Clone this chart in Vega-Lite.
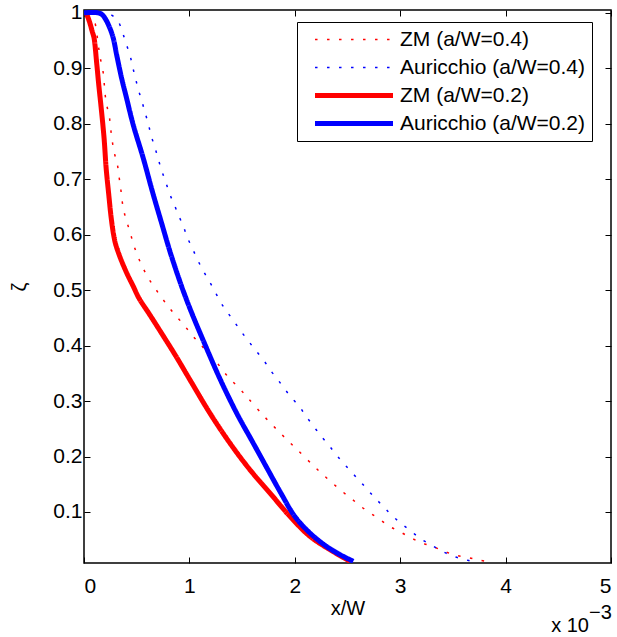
{
  "$schema": "https://vega.github.io/schema/vega-lite/v6.json",
  "width": 527,
  "height": 553,
  "autosize": {"type": "none"},
  "padding": {"left": 84, "top": 10, "right": 6, "bottom": 74},
  "background": "white",
  "config": {
    "view": {"stroke": "black", "strokeWidth": 1.5},
    "font": "Liberation Sans",
    "axis": {
      "domain": false, "grid": false,
      "tickColor": "black", "tickSize": -6, "tickWidth": 1,
      "labelFontSize": 21, "labelColor": "black", "labelFont": "Liberation Sans",
      "titleFontSize": 20, "titleFontWeight": "normal", "titleColor": "black", "titleFont": "Liberation Sans"
    },
    "legend": {
      "labelFontSize": 21, "labelFont": "Liberation Sans", "labelColor": "black", "labelLimit": 400,
      "strokeColor": "black", "fillColor": "white"
    }
  },
  "datasets": {
    "curves": [
      {"s": "ZM (a/W=0.4)", "x": 0.06, "z": 1.0},
      {"s": "ZM (a/W=0.4)", "x": 0.1, "z": 0.985},
      {"s": "ZM (a/W=0.4)", "x": 0.136, "z": 0.941},
      {"s": "ZM (a/W=0.4)", "x": 0.152, "z": 0.92},
      {"s": "ZM (a/W=0.4)", "x": 0.177, "z": 0.899},
      {"s": "ZM (a/W=0.4)", "x": 0.19, "z": 0.877},
      {"s": "ZM (a/W=0.4)", "x": 0.199, "z": 0.855},
      {"s": "ZM (a/W=0.4)", "x": 0.215, "z": 0.834},
      {"s": "ZM (a/W=0.4)", "x": 0.24, "z": 0.813},
      {"s": "ZM (a/W=0.4)", "x": 0.253, "z": 0.791},
      {"s": "ZM (a/W=0.4)", "x": 0.268, "z": 0.769},
      {"s": "ZM (a/W=0.4)", "x": 0.287, "z": 0.748},
      {"s": "ZM (a/W=0.4)", "x": 0.316, "z": 0.727},
      {"s": "ZM (a/W=0.4)", "x": 0.332, "z": 0.705},
      {"s": "ZM (a/W=0.4)", "x": 0.348, "z": 0.684},
      {"s": "ZM (a/W=0.4)", "x": 0.36, "z": 0.663},
      {"s": "ZM (a/W=0.4)", "x": 0.379, "z": 0.642},
      {"s": "ZM (a/W=0.4)", "x": 0.41, "z": 0.621},
      {"s": "ZM (a/W=0.4)", "x": 0.442, "z": 0.601},
      {"s": "ZM (a/W=0.4)", "x": 0.474, "z": 0.58},
      {"s": "ZM (a/W=0.4)", "x": 0.515, "z": 0.559},
      {"s": "ZM (a/W=0.4)", "x": 0.562, "z": 0.539},
      {"s": "ZM (a/W=0.4)", "x": 0.616, "z": 0.52},
      {"s": "ZM (a/W=0.4)", "x": 0.679, "z": 0.502},
      {"s": "ZM (a/W=0.4)", "x": 0.742, "z": 0.485},
      {"s": "ZM (a/W=0.4)", "x": 0.809, "z": 0.468},
      {"s": "ZM (a/W=0.4)", "x": 0.885, "z": 0.451},
      {"s": "ZM (a/W=0.4)", "x": 0.957, "z": 0.435},
      {"s": "ZM (a/W=0.4)", "x": 1.03, "z": 0.418},
      {"s": "ZM (a/W=0.4)", "x": 1.106, "z": 0.402},
      {"s": "ZM (a/W=0.4)", "x": 1.18, "z": 0.386},
      {"s": "ZM (a/W=0.4)", "x": 1.258, "z": 0.37},
      {"s": "ZM (a/W=0.4)", "x": 1.33, "z": 0.352},
      {"s": "ZM (a/W=0.4)", "x": 1.40, "z": 0.337},
      {"s": "ZM (a/W=0.4)", "x": 1.479, "z": 0.322},
      {"s": "ZM (a/W=0.4)", "x": 1.557, "z": 0.305},
      {"s": "ZM (a/W=0.4)", "x": 1.716, "z": 0.271},
      {"s": "ZM (a/W=0.4)", "x": 1.874, "z": 0.24},
      {"s": "ZM (a/W=0.4)", "x": 2.03, "z": 0.211},
      {"s": "ZM (a/W=0.4)", "x": 2.19, "z": 0.181},
      {"s": "ZM (a/W=0.4)", "x": 2.275, "z": 0.166},
      {"s": "ZM (a/W=0.4)", "x": 2.363, "z": 0.151},
      {"s": "ZM (a/W=0.4)", "x": 2.45, "z": 0.137},
      {"s": "ZM (a/W=0.4)", "x": 2.537, "z": 0.124},
      {"s": "ZM (a/W=0.4)", "x": 2.626, "z": 0.11},
      {"s": "ZM (a/W=0.4)", "x": 2.717, "z": 0.098},
      {"s": "ZM (a/W=0.4)", "x": 2.81, "z": 0.086},
      {"s": "ZM (a/W=0.4)", "x": 2.90, "z": 0.074},
      {"s": "ZM (a/W=0.4)", "x": 3.00, "z": 0.064},
      {"s": "ZM (a/W=0.4)", "x": 3.106, "z": 0.053},
      {"s": "ZM (a/W=0.4)", "x": 3.21, "z": 0.044},
      {"s": "ZM (a/W=0.4)", "x": 3.318, "z": 0.037},
      {"s": "ZM (a/W=0.4)", "x": 3.42, "z": 0.029},
      {"s": "ZM (a/W=0.4)", "x": 3.526, "z": 0.022},
      {"s": "ZM (a/W=0.4)", "x": 3.643, "z": 0.018},
      {"s": "ZM (a/W=0.4)", "x": 3.754, "z": 0.013},
      {"s": "ZM (a/W=0.4)", "x": 3.87, "z": 0.01},

      {"s": "Auricchio (a/W=0.4)", "x": 0.15, "z": 1.0},
      {"s": "Auricchio (a/W=0.4)", "x": 0.23, "z": 0.999},
      {"s": "Auricchio (a/W=0.4)", "x": 0.316, "z": 0.987},
      {"s": "Auricchio (a/W=0.4)", "x": 0.363, "z": 0.966},
      {"s": "Auricchio (a/W=0.4)", "x": 0.398, "z": 0.945},
      {"s": "Auricchio (a/W=0.4)", "x": 0.436, "z": 0.924},
      {"s": "Auricchio (a/W=0.4)", "x": 0.461, "z": 0.903},
      {"s": "Auricchio (a/W=0.4)", "x": 0.487, "z": 0.883},
      {"s": "Auricchio (a/W=0.4)", "x": 0.515, "z": 0.862},
      {"s": "Auricchio (a/W=0.4)", "x": 0.55, "z": 0.84},
      {"s": "Auricchio (a/W=0.4)", "x": 0.581, "z": 0.819},
      {"s": "Auricchio (a/W=0.4)", "x": 0.61, "z": 0.8},
      {"s": "Auricchio (a/W=0.4)", "x": 0.638, "z": 0.778},
      {"s": "Auricchio (a/W=0.4)", "x": 0.673, "z": 0.757},
      {"s": "Auricchio (a/W=0.4)", "x": 0.705, "z": 0.736},
      {"s": "Auricchio (a/W=0.4)", "x": 0.736, "z": 0.716},
      {"s": "Auricchio (a/W=0.4)", "x": 0.774, "z": 0.696},
      {"s": "Auricchio (a/W=0.4)", "x": 0.809, "z": 0.675},
      {"s": "Auricchio (a/W=0.4)", "x": 0.853, "z": 0.656},
      {"s": "Auricchio (a/W=0.4)", "x": 0.894, "z": 0.636},
      {"s": "Auricchio (a/W=0.4)", "x": 0.941, "z": 0.616},
      {"s": "Auricchio (a/W=0.4)", "x": 0.98, "z": 0.595},
      {"s": "Auricchio (a/W=0.4)", "x": 1.027, "z": 0.576},
      {"s": "Auricchio (a/W=0.4)", "x": 1.074, "z": 0.556},
      {"s": "Auricchio (a/W=0.4)", "x": 1.125, "z": 0.537},
      {"s": "Auricchio (a/W=0.4)", "x": 1.179, "z": 0.519},
      {"s": "Auricchio (a/W=0.4)", "x": 1.236, "z": 0.5},
      {"s": "Auricchio (a/W=0.4)", "x": 1.29, "z": 0.48},
      {"s": "Auricchio (a/W=0.4)", "x": 1.353, "z": 0.462},
      {"s": "Auricchio (a/W=0.4)", "x": 1.422, "z": 0.444},
      {"s": "Auricchio (a/W=0.4)", "x": 1.488, "z": 0.426},
      {"s": "Auricchio (a/W=0.4)", "x": 1.557, "z": 0.409},
      {"s": "Auricchio (a/W=0.4)", "x": 1.625, "z": 0.392},
      {"s": "Auricchio (a/W=0.4)", "x": 1.70, "z": 0.375},
      {"s": "Auricchio (a/W=0.4)", "x": 1.763, "z": 0.357},
      {"s": "Auricchio (a/W=0.4)", "x": 1.833, "z": 0.34},
      {"s": "Auricchio (a/W=0.4)", "x": 1.90, "z": 0.323},
      {"s": "Auricchio (a/W=0.4)", "x": 1.968, "z": 0.306},
      {"s": "Auricchio (a/W=0.4)", "x": 2.045, "z": 0.29},
      {"s": "Auricchio (a/W=0.4)", "x": 2.104, "z": 0.273},
      {"s": "Auricchio (a/W=0.4)", "x": 2.174, "z": 0.256},
      {"s": "Auricchio (a/W=0.4)", "x": 2.243, "z": 0.238},
      {"s": "Auricchio (a/W=0.4)", "x": 2.316, "z": 0.222},
      {"s": "Auricchio (a/W=0.4)", "x": 2.389, "z": 0.204},
      {"s": "Auricchio (a/W=0.4)", "x": 2.458, "z": 0.189},
      {"s": "Auricchio (a/W=0.4)", "x": 2.537, "z": 0.172},
      {"s": "Auricchio (a/W=0.4)", "x": 2.616, "z": 0.156},
      {"s": "Auricchio (a/W=0.4)", "x": 2.695, "z": 0.139},
      {"s": "Auricchio (a/W=0.4)", "x": 2.768, "z": 0.124},
      {"s": "Auricchio (a/W=0.4)", "x": 2.844, "z": 0.109},
      {"s": "Auricchio (a/W=0.4)", "x": 2.926, "z": 0.093},
      {"s": "Auricchio (a/W=0.4)", "x": 3.011, "z": 0.079},
      {"s": "Auricchio (a/W=0.4)", "x": 3.10, "z": 0.066},
      {"s": "Auricchio (a/W=0.4)", "x": 3.19, "z": 0.052},
      {"s": "Auricchio (a/W=0.4)", "x": 3.289, "z": 0.041},
      {"s": "Auricchio (a/W=0.4)", "x": 3.39, "z": 0.03},
      {"s": "Auricchio (a/W=0.4)", "x": 3.49, "z": 0.021},
      {"s": "Auricchio (a/W=0.4)", "x": 3.595, "z": 0.015},
      {"s": "Auricchio (a/W=0.4)", "x": 3.706, "z": 0.01},

      {"s": "ZM (a/W=0.2)", "x": 0.02, "z": 1.0},
      {"s": "ZM (a/W=0.2)", "x": 0.05, "z": 0.985},
      {"s": "ZM (a/W=0.2)", "x": 0.08, "z": 0.965},
      {"s": "ZM (a/W=0.2)", "x": 0.095, "z": 0.955},
      {"s": "ZM (a/W=0.2)", "x": 0.12, "z": 0.91},
      {"s": "ZM (a/W=0.2)", "x": 0.14, "z": 0.87},
      {"s": "ZM (a/W=0.2)", "x": 0.16, "z": 0.834},
      {"s": "ZM (a/W=0.2)", "x": 0.19, "z": 0.775},
      {"s": "ZM (a/W=0.2)", "x": 0.21, "z": 0.72},
      {"s": "ZM (a/W=0.2)", "x": 0.235, "z": 0.672},
      {"s": "ZM (a/W=0.2)", "x": 0.255, "z": 0.635},
      {"s": "ZM (a/W=0.2)", "x": 0.278, "z": 0.603},
      {"s": "ZM (a/W=0.2)", "x": 0.3, "z": 0.583},
      {"s": "ZM (a/W=0.2)", "x": 0.341, "z": 0.56},
      {"s": "ZM (a/W=0.2)", "x": 0.405, "z": 0.531},
      {"s": "ZM (a/W=0.2)", "x": 0.467, "z": 0.507},
      {"s": "ZM (a/W=0.2)", "x": 0.52, "z": 0.486},
      {"s": "ZM (a/W=0.2)", "x": 0.626, "z": 0.455},
      {"s": "ZM (a/W=0.2)", "x": 0.75, "z": 0.418},
      {"s": "ZM (a/W=0.2)", "x": 0.875, "z": 0.38},
      {"s": "ZM (a/W=0.2)", "x": 1.006, "z": 0.338},
      {"s": "ZM (a/W=0.2)", "x": 1.195, "z": 0.278},
      {"s": "ZM (a/W=0.2)", "x": 1.385, "z": 0.224},
      {"s": "ZM (a/W=0.2)", "x": 1.575, "z": 0.176},
      {"s": "ZM (a/W=0.2)", "x": 1.765, "z": 0.134},
      {"s": "ZM (a/W=0.2)", "x": 1.954, "z": 0.092},
      {"s": "ZM (a/W=0.2)", "x": 2.144, "z": 0.056},
      {"s": "ZM (a/W=0.2)", "x": 2.334, "z": 0.032},
      {"s": "ZM (a/W=0.2)", "x": 2.524, "z": 0.011},

      {"s": "Auricchio (a/W=0.2)", "x": 0.0, "z": 1.0},
      {"s": "Auricchio (a/W=0.2)", "x": 0.13, "z": 1.0},
      {"s": "Auricchio (a/W=0.2)", "x": 0.17, "z": 0.997},
      {"s": "Auricchio (a/W=0.2)", "x": 0.2, "z": 0.99},
      {"s": "Auricchio (a/W=0.2)", "x": 0.246, "z": 0.972},
      {"s": "Auricchio (a/W=0.2)", "x": 0.278, "z": 0.954},
      {"s": "Auricchio (a/W=0.2)", "x": 0.31, "z": 0.924},
      {"s": "Auricchio (a/W=0.2)", "x": 0.357, "z": 0.882},
      {"s": "Auricchio (a/W=0.2)", "x": 0.404, "z": 0.846},
      {"s": "Auricchio (a/W=0.2)", "x": 0.467, "z": 0.798},
      {"s": "Auricchio (a/W=0.2)", "x": 0.562, "z": 0.738},
      {"s": "Auricchio (a/W=0.2)", "x": 0.65, "z": 0.677},
      {"s": "Auricchio (a/W=0.2)", "x": 0.736, "z": 0.621},
      {"s": "Auricchio (a/W=0.2)", "x": 0.83, "z": 0.561},
      {"s": "Auricchio (a/W=0.2)", "x": 0.974, "z": 0.482},
      {"s": "Auricchio (a/W=0.2)", "x": 1.17, "z": 0.392},
      {"s": "Auricchio (a/W=0.2)", "x": 1.295, "z": 0.338},
      {"s": "Auricchio (a/W=0.2)", "x": 1.449, "z": 0.278},
      {"s": "Auricchio (a/W=0.2)", "x": 1.606, "z": 0.224},
      {"s": "Auricchio (a/W=0.2)", "x": 1.745, "z": 0.176},
      {"s": "Auricchio (a/W=0.2)", "x": 1.868, "z": 0.134},
      {"s": "Auricchio (a/W=0.2)", "x": 2.0, "z": 0.092},
      {"s": "Auricchio (a/W=0.2)", "x": 2.144, "z": 0.062},
      {"s": "Auricchio (a/W=0.2)", "x": 2.30, "z": 0.038},
      {"s": "Auricchio (a/W=0.2)", "x": 2.43, "z": 0.023},
      {"s": "Auricchio (a/W=0.2)", "x": 2.555, "z": 0.011}
    ],
    "notes": [
      {"x": 5, "z": 0.008, "base": "x 10", "sup": "−3"}
    ]
  },
  "layer": [
    {
      "data": {"name": "curves"},
      "mark": {"type": "line", "clip": true, "strokeCap": "butt", "interpolate": "catmull-rom"},
      "encoding": {
        "x": {"field": "x", "type": "quantitative",
              "scale": {"domain": [0, 5], "nice": false, "zero": false},
              "axis": {"values": [0, 1, 2, 3, 4, 5], "format": "~g", "title": "x/W", "labelPadding": 18, "titlePadding": 2}},
        "y": {"field": "z", "type": "quantitative",
              "scale": {"domain": [0.008, 1.005], "nice": false, "zero": false},
              "axis": {"values": [0.1, 0.2, 0.3, 0.4, 0.5, 0.6, 0.7, 0.8, 0.9, 1], "format": "~g", "title": "ζ", "labelPadding": 8, "titlePadding": 23}},
        "color": {"field": "s", "type": "nominal",
                  "scale": {"domain": ["ZM (a/W=0.4)", "Auricchio (a/W=0.4)", "ZM (a/W=0.2)", "Auricchio (a/W=0.2)"],
                            "range": ["#ff0000", "#0000ff", "#ff0000", "#0000ff"]},
                  "legend": {"orient": "none", "legendX": 213, "legendY": 12, "title": null,
                             "symbolType": "M0.07,0H10.47", "symbolSize": 225, "labelOffset": 75,
                             "padding": 7, "rowPadding": 6}},
        "strokeDash": {"field": "s", "type": "nominal",
                       "scale": {"domain": ["ZM (a/W=0.4)", "Auricchio (a/W=0.4)", "ZM (a/W=0.2)", "Auricchio (a/W=0.2)"],
                                 "range": [[2.5, 9.5], [2.5, 9.5], [1, 0], [1, 0]]}},
        "strokeWidth": {"field": "s", "type": "nominal",
                        "scale": {"type": "ordinal", "domain": ["ZM (a/W=0.4)", "Auricchio (a/W=0.4)", "ZM (a/W=0.2)", "Auricchio (a/W=0.2)"],
                                  "range": [1.5, 1.5, 5, 5]}}
      }
    },
    {
      "data": {"name": "curves"},
      "mark": {"type": "line", "opacity": 0},
      "encoding": {
        "x": {"field": "x", "type": "quantitative",
              "scale": {"domain": [0, 5], "nice": false, "zero": false},
              "axis": {"orient": "top", "values": [0, 1, 2, 3, 4, 5], "labels": false, "title": null}},
        "y": {"field": "z", "type": "quantitative",
              "scale": {"domain": [0.008, 1.005], "nice": false, "zero": false},
              "axis": {"orient": "right", "values": [0.1, 0.2, 0.3, 0.4, 0.5, 0.6, 0.7, 0.8, 0.9, 1], "labels": false, "title": null}},
        "detail": {"field": "s", "type": "nominal"}
      }
    },
    {
      "data": {"name": "notes"},
      "mark": {"type": "text", "align": "right", "baseline": "alphabetic", "dx": -22, "dy": 69, "fontSize": 20, "font": "Liberation Sans", "color": "black"},
      "encoding": {
        "x": {"field": "x", "type": "quantitative", "scale": {"domain": [0, 5], "nice": false, "zero": false}, "axis": null},
        "y": {"field": "z", "type": "quantitative", "scale": {"domain": [0.008, 1.005], "nice": false, "zero": false}, "axis": null},
        "text": {"field": "base"}
      }
    },
    {
      "data": {"name": "notes"},
      "mark": {"type": "text", "align": "left", "baseline": "alphabetic", "dx": -22, "dy": 56, "fontSize": 20, "font": "Liberation Sans", "color": "black"},
      "encoding": {
        "x": {"field": "x", "type": "quantitative", "scale": {"domain": [0, 5], "nice": false, "zero": false}, "axis": null},
        "y": {"field": "z", "type": "quantitative", "scale": {"domain": [0.008, 1.005], "nice": false, "zero": false}, "axis": null},
        "text": {"field": "sup"}
      }
    }
  ],
  "resolve": {"axis": {"x": "independent", "y": "independent"}}
}
